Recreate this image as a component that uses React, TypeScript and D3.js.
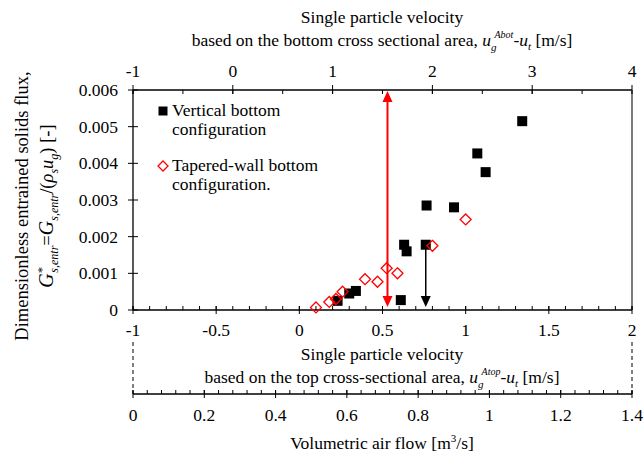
import React from "react";
import * as d3 from "d3";

const verticalX = [0.23, 0.30, 0.34, 0.61, 0.63, 0.645, 0.76, 0.765, 0.93, 1.07, 1.12, 1.34];
const verticalY = [0.00025, 0.00045, 0.00052, 0.00027, 0.00178, 0.0016, 0.00178, 0.00285, 0.0028, 0.00427, 0.00376, 0.00515];
const taperedX = [0.10, 0.18, 0.22, 0.26, 0.395, 0.47, 0.525, 0.59, 0.80, 1.00];
const taperedY = [0.00007, 0.00022, 0.0003, 0.0005, 0.00084, 0.00077, 0.00114, 0.001, 0.00175, 0.00247];

const yTicks = [0, 0.001, 0.002, 0.003, 0.004, 0.005, 0.006];
const yTickLabels = ["0", "0.001", "0.002", "0.003", "0.004", "0.005", "0.006"];
const bottomTicks = [-1, -0.5, 0, 0.5, 1, 1.5, 2];
const bottomTickLabels = ["-1", "-0.5", "0", "0.5", "1", "1.5", "2"];
const topTicks = [-1, 0, 1, 2, 3, 4];
const topTickLabels = ["-1", "0", "1", "2", "3", "4"];
const volTicks = [0, 0.2, 0.4, 0.6, 0.8, 1, 1.2, 1.4];
const volTickLabels = ["0", "0.2", "0.4", "0.6", "0.8", "1", "1.2", "1.4"];

const redArrow = { x: 0.53, y0: 0, y1: 0.006 };
const blackArrow = { x: 0.76, y0: 0.00178, y1: 0 };

const L = 133, R = 632, T = 90, B = 310, VOLY = 394;
const FS = 17.5;
const TS: React.CSSProperties = { fontFamily: '"Liberation Serif"', fontSize: FS };

export default function App() {
  const xB = d3.scaleLinear().domain([-1, 2]).range([L, R]);
  const xT = d3.scaleLinear().domain([-1, 4]).range([L, R]);
  const xV = d3.scaleLinear().domain([0, 1.4]).range([L, R]);
  const y = d3.scaleLinear().domain([0, 0.006]).range([B, T]);

  const bottomMinor = d3.range(-1, 2.0001, 0.1).map((v) => +v.toFixed(2));
  const topMinor = d3.range(-1, 4.0001, 0.5).map((v) => +v.toFixed(2));
  const volMinor = d3.range(0, 1.4001, 0.04).map((v) => +v.toFixed(3));

  const arrowHead = (x: number, tipY: number, dir: number, color: string) => {
    const w = 5, h = 11;
    return (
      <path
        d={`M${x},${tipY} L${x - w},${tipY - dir * h} L${x + w},${tipY - dir * h} Z`}
        fill={color}
      />
    );
  };

  const sq = 10;
  const dm = 5.5;

  return (
    <svg width={644} height={457} style={{ position: "absolute", left: 0, top: 0, background: "#fff" }}>
      <rect x={0} y={0} width={644} height={457} fill="#fff" />

      {/* Top titles */}
      <text x={382} y={23} textAnchor="middle" style={TS}>Single particle velocity</text>
      <text x={382} y={46} textAnchor="middle" style={TS}>
        based on the bottom cross sectional area,{" "}
        <tspan fontStyle="italic">u</tspan>
        <tspan fontStyle="italic" fontSize={11} dy={5}>g</tspan>
        <tspan fontStyle="italic" fontSize={10} dx={-2} dy={-13}>Abot</tspan>
        <tspan dy={8}>-</tspan>
        <tspan fontStyle="italic">u</tspan>
        <tspan fontStyle="italic" fontSize={11} dy={4}>t</tspan>
        <tspan dy={-4}> [m/s]</tspan>
      </text>

      {/* Top axis */}
      <line x1={L} x2={R} y1={T} y2={T} stroke="#000" strokeWidth={1.3} />
      {topMinor.map((v) => (
        <line key={"tm" + v} x1={xT(v)} x2={xT(v)} y1={T} y2={T + 4} stroke="#000" strokeWidth={1} />
      ))}
      {topTicks.map((v, i) => (
        <g key={"tt" + v}>
          <line x1={xT(v)} x2={xT(v)} y1={T - 5} y2={T + 4} stroke="#000" strokeWidth={1} />
          <text x={xT(v)} y={77} textAnchor="middle" style={TS}>{topTickLabels[i]}</text>
        </g>
      ))}

      {/* Right axis */}
      <line x1={R} x2={R} y1={T} y2={B} stroke="#333" strokeWidth={1.3} />

      {/* Left axis */}
      <line x1={L} x2={L} y1={T} y2={B} stroke="#000" strokeWidth={1.3} />
      {yTicks.map((v, i) => (
        <g key={"yt" + v}>
          <line x1={L - 5} x2={L + 5} y1={y(v)} y2={y(v)} stroke="#000" strokeWidth={1} />
          <text x={118} y={y(v) + 6} textAnchor="end" style={TS}>{yTickLabels[i]}</text>
        </g>
      ))}

      {/* Bottom main axis */}
      <line x1={L} x2={R} y1={B} y2={B} stroke="#000" strokeWidth={1.3} />
      {bottomMinor.map((v) => (
        <line key={"bm" + v} x1={xB(v)} x2={xB(v)} y1={B} y2={B - 4} stroke="#000" strokeWidth={1} />
      ))}
      {bottomTicks.map((v, i) => (
        <g key={"bt" + v}>
          <line x1={xB(v)} x2={xB(v)} y1={B - 4} y2={B + 4} stroke="#000" strokeWidth={1} />
          <text x={xB(v)} y={336} textAnchor="middle" style={TS}>{bottomTickLabels[i]}</text>
        </g>
      ))}

      {/* Bottom titles */}
      <text x={382} y={360} textAnchor="middle" style={TS}>Single particle velocity</text>
      <text x={382} y={383} textAnchor="middle" style={TS}>
        based on the top cross-sectional area,{" "}
        <tspan fontStyle="italic">u</tspan>
        <tspan fontStyle="italic" fontSize={11} dy={5}>g</tspan>
        <tspan fontStyle="italic" fontSize={10} dx={-2} dy={-13}>Atop</tspan>
        <tspan dy={8}>-</tspan>
        <tspan fontStyle="italic">u</tspan>
        <tspan fontStyle="italic" fontSize={11} dy={4}>t</tspan>
        <tspan dy={-4}> [m/s]</tspan>
      </text>

      {/* Dashed connectors */}
      <line x1={L} x2={L} y1={342} y2={VOLY} stroke="#000" strokeWidth={1} strokeDasharray="4,3" />
      <line x1={R} x2={R} y1={342} y2={VOLY} stroke="#000" strokeWidth={1} strokeDasharray="4,3" />

      {/* Volumetric axis */}
      <line x1={L} x2={R} y1={VOLY} y2={VOLY} stroke="#000" strokeWidth={1.3} />
      {volMinor.map((v) => (
        <line key={"vm" + v} x1={xV(v)} x2={xV(v)} y1={VOLY} y2={VOLY - 4} stroke="#000" strokeWidth={1} />
      ))}
      {volTicks.map((v, i) => (
        <g key={"vt" + v}>
          <line x1={xV(v)} x2={xV(v)} y1={VOLY - 4} y2={VOLY + 4} stroke="#000" strokeWidth={1} />
          <text x={xV(v)} y={421} textAnchor="middle" style={TS}>{volTickLabels[i]}</text>
        </g>
      ))}
      <text x={382} y={449} textAnchor="middle" style={TS}>
        Volumetric air flow [m<tspan fontSize={11} dy={-7}>3</tspan><tspan dy={7}>/s]</tspan>
      </text>

      {/* Y label */}
      <text transform="translate(28,206) rotate(-90)" textAnchor="middle" style={{ ...TS, fontSize: 18.5 }}>
        Dimensionless entrained solids flux,
      </text>
      <text transform="translate(53,206) rotate(-90)" textAnchor="middle" style={{ ...TS, fontSize: 18.5 }}>
        <tspan fontStyle="italic" fontSize={20}>G</tspan>
        <tspan fontSize={13} dy={-7}>*</tspan>
        <tspan fontStyle="italic" fontSize={12} dx={-6} dy={12}>s,entr</tspan>
        <tspan dy={-5}>=</tspan>
        <tspan fontStyle="italic" fontSize={20}>G</tspan>
        <tspan fontStyle="italic" fontSize={12} dy={5}>s,entr</tspan>
        <tspan dy={-5}>/(</tspan>
        <tspan fontStyle="italic">ρ</tspan>
        <tspan fontStyle="italic" fontSize={12} dy={5}>s</tspan>
        <tspan fontStyle="italic" dy={-5}>u</tspan>
        <tspan fontStyle="italic" fontSize={12} dy={5}>g</tspan>
        <tspan dy={-5}>) [-]</tspan>
      </text>

      {/* Legend */}
      <rect x={163 - 4.5} y={111 - 4.5} width={9} height={9} fill="#000" />
      <text x={172} y={116} style={TS}>Vertical bottom</text>
      <text x={172} y={135} style={TS}>configuration</text>
      <path d={`M163,${166 - 5} L168,166 L163,${166 + 5} L158,166 Z`} fill="#fff" stroke="red" strokeWidth={1.3} />
      <text x={172} y={171} style={TS}>Tapered-wall bottom</text>
      <text x={172} y={190} style={TS}>configuration.</text>

      {/* Arrows */}
      <line x1={xB(redArrow.x)} x2={xB(redArrow.x)} y1={y(redArrow.y0) - 8} y2={y(redArrow.y1) + 8} stroke="red" strokeWidth={2} />
      {arrowHead(xB(redArrow.x), y(redArrow.y1) + 1, -1, "red")}
      {arrowHead(xB(redArrow.x), y(redArrow.y0) - 3, 1, "red")}
      <line x1={xB(blackArrow.x)} x2={xB(blackArrow.x)} y1={y(blackArrow.y0)} y2={y(blackArrow.y1) - 8} stroke="#000" strokeWidth={1.5} />
      {arrowHead(xB(blackArrow.x), y(blackArrow.y1) - 3, 1, "#000")}

      {/* Data */}
      {verticalX.map((v, i) => (
        <rect key={"v" + i} x={xB(v) - sq / 2} y={y(verticalY[i]) - sq / 2} width={sq} height={sq} fill="#000" />
      ))}
      {taperedX.map((v, i) => {
        const cx = xB(v), cy = y(taperedY[i]);
        return (
          <path
            key={"t" + i}
            d={`M${cx},${cy - dm} L${cx + dm},${cy} L${cx},${cy + dm} L${cx - dm},${cy} Z`}
            fill="none"
            stroke="red"
            strokeWidth={1.3}
          />
        );
      })}
    </svg>
  );
}
